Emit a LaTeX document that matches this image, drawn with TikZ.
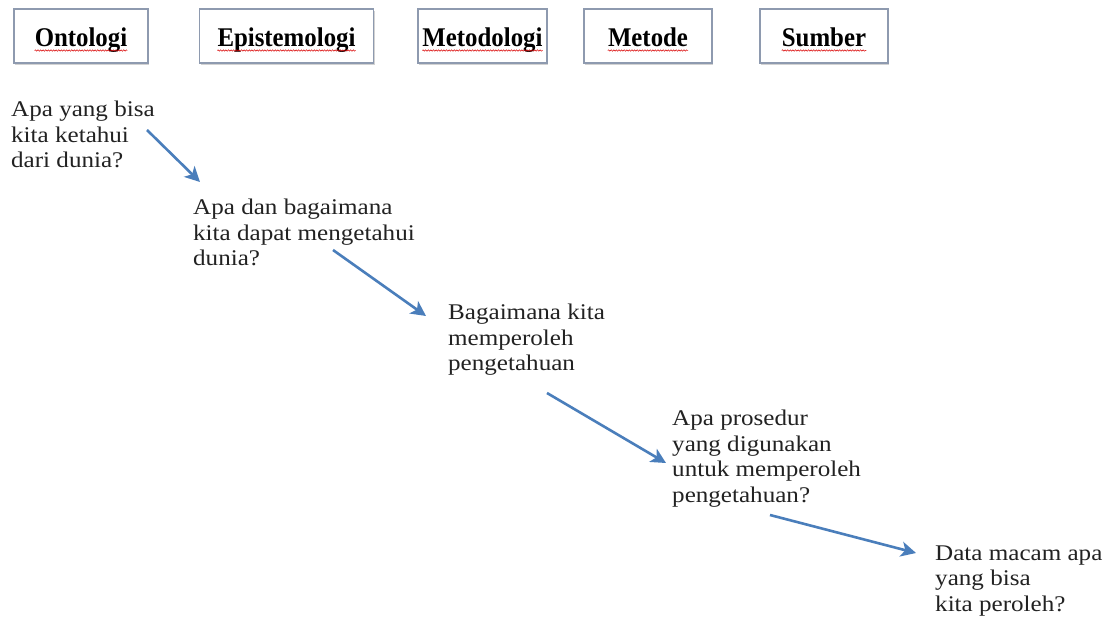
\documentclass[tikz,border=0pt]{standalone}
\usepackage{fontspec}
\setmainfont{Liberation Serif}[FakeStretch=1.12]
\newfontfamily\headfont{Liberation Serif}[FakeStretch=0.92]
\usetikzlibrary{arrows.meta,shadows,decorations.pathmorphing}

\definecolor{boxline}{HTML}{8E9AAF}
\definecolor{arrowblue}{HTML}{4A7EBB}
\definecolor{ink}{HTML}{222222}

\tikzset{
  headbox/.style={draw=boxline, line width=1.2pt, fill=white, minimum height=54pt,
    inner sep=0pt, drop shadow={shadow xshift=1pt, shadow yshift=-2pt, opacity=0.35}},
  headword/.style={anchor=base, inner sep=0pt, text=black, font=\headfont\bfseries\fontsize{27}{30}\selectfont},
  wavy/.style={draw=red!85!black, line width=0.5pt, decorate,
    decoration={snake, amplitude=0.7pt, segment length=2.6pt}},
  % anchor = garis dasar baris terakhir
  question/.style={anchor=base west, align=left, inner sep=0pt, text=ink,
    font=\fontsize{22.4}{25.5}\selectfont},
  flow/.style={draw=arrowblue, line width=2.6pt, -{Stealth[length=15pt,width=15pt,inset=4pt]}}
}

\begin{document}
\begin{tikzpicture}[x=1pt, y=-1pt]
    \useasboundingbox[fill=white] (0,0) rectangle (1109,617);

    % Kotak judul
    \foreach \nm/\cx/\bw/\txt in {onto/81/134/Ontologi, epis/286.5/174/Epistemologi,
        metl/482.5/129/Metodologi, metd/648/128/Metode, sumb/824/128/Sumber} {
        \node[headbox, minimum width=\bw pt] (\nm) at (\cx,36) {};
        \node[headword] (\nm w) at (\cx,47) {\txt};
        \draw[wavy] ([yshift=-3.5pt]\nm w.base west) -- ([yshift=-3.5pt]\nm w.base east);
    }

    % Pertanyaan
    \node[question] (q1) at (11,168)  {Apa yang bisa\\kita ketahui\\dari dunia?};
    \node[question] (q2) at (193,266) {Apa dan bagaimana\\kita dapat mengetahui\\dunia?};
    \node[question] (q3) at (448,371) {Bagaimana kita\\memperoleh\\pengetahuan};
    \node[question] (q4) at (672,502) {Apa prosedur\\yang digunakan\\untuk memperoleh\\pengetahuan?};
    \node[question] (q5) at (935,611) {Data macam apa\\yang bisa\\kita peroleh?};

    % Panah
    \coordinate (a1) at (147,130); \coordinate (b1) at (200,182);
    \coordinate (a2) at (333,250); \coordinate (b2) at (426,316);
    \coordinate (a3) at (547,393); \coordinate (b3) at (666,463);
    \coordinate (a4) at (770,515); \coordinate (b4) at (916,553);
    \draw[flow] (a1) -- (b1);
    \draw[flow] (a2) -- (b2);
    \draw[flow] (a3) -- (b3);
    \draw[flow] (a4) -- (b4);
\end{tikzpicture}
\end{document}
